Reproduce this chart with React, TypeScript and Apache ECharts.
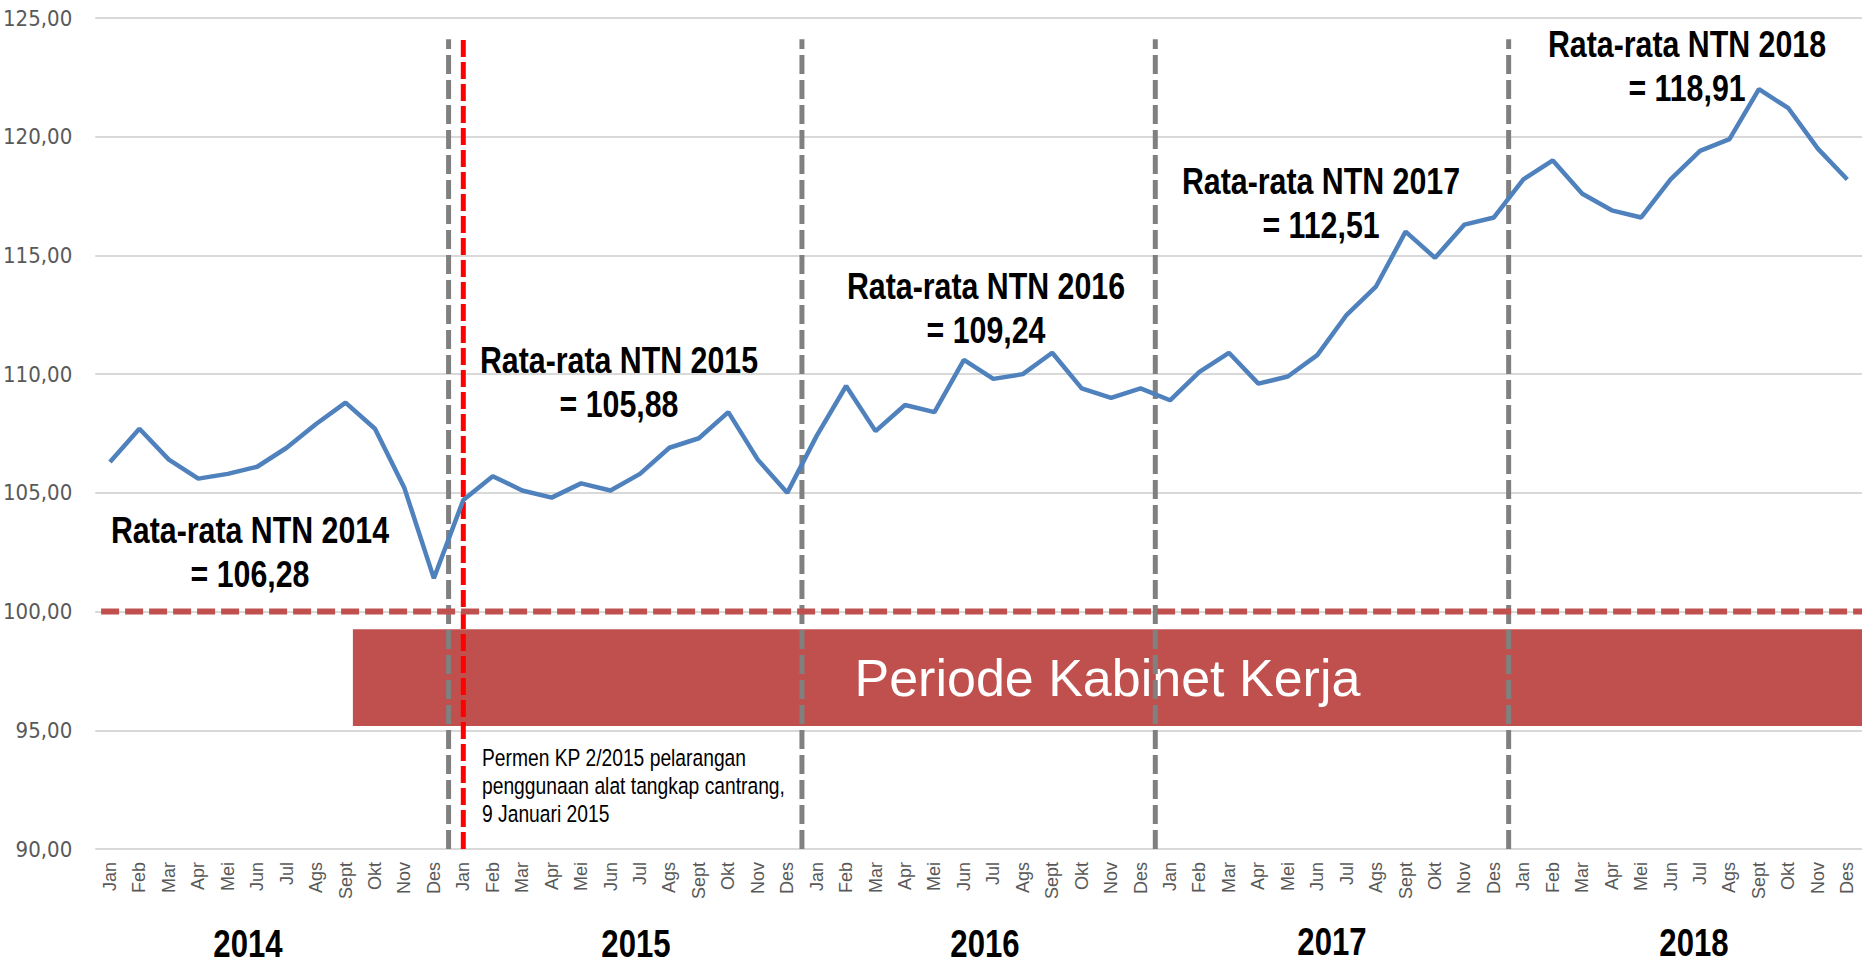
import React, { useEffect, useRef } from 'react';
import * as echarts from 'echarts';

const months = ['Jan', 'Feb', 'Mar', 'Apr', 'Mei', 'Jun', 'Jul', 'Ags', 'Sept', 'Okt', 'Nov', 'Des'];
const years = ['2014', '2015', '2016', '2017', '2018'];

const ntn2014 = [106.3, 107.7, 106.4, 105.6, 105.8, 106.1, 106.9, 107.9, 108.8, 107.7, 105.2, 101.4];
const ntn2015 = [104.7, 105.7, 105.1, 104.8, 105.4, 105.1, 105.8, 106.9, 107.3, 108.4, 106.4, 105.0];
const ntn2016 = [107.4, 109.5, 107.6, 108.7, 108.4, 110.6, 109.8, 110.0, 110.9, 109.4, 109.0, 109.4];
const ntn2017 = [108.9, 110.1, 110.9, 109.6, 109.9, 110.8, 112.5, 113.7, 116.0, 114.9, 116.3, 116.6];
const ntn2018 = [118.2, 119.0, 117.6, 116.9, 116.6, 118.2, 119.4, 119.9, 122.0, 121.2, 119.5, 118.2];

const yearAverages = ['106,28', '105,88', '109,24', '112,51', '118,91'];
const baselineValue = 100;
const regulationMonthIndex = 12; // Jan 2015
const regulationText = 'Permen KP 2/2015 pelarangan\npenggunaan alat tangkap cantrang,\n9 Januari 2015';
const bandText = 'Periode Kabinet Kerja';

const SANS = "'Liberation Sans', Arial, sans-serif";
const COND = "'DejaVu Sans Condensed', 'Liberation Sans', sans-serif";
const NARROW_SCALE = 0.82;

export default function App() {
  const ref = useRef<HTMLDivElement>(null);

  useEffect(() => {
    document.body.style.margin = '0';
    const chart = echarts.init(ref.current!, undefined, { renderer: 'svg' });

    const categories: string[] = [];
    years.forEach(() => months.forEach((m) => categories.push(m)));
    const values = [...ntn2014, ...ntn2015, ...ntn2016, ...ntn2017, ...ntn2018];

    const separatorSeries = years.slice(1).map((_, i) => ({
      type: 'line',
      xAxisIndex: 1,
      symbol: 'none',
      silent: true,
      z: 2,
      lineStyle: { color: '#808080', width: 5, type: [19, 6] },
      data: [[(i + 1) * 12 - 0.5, 90], [(i + 1) * 12 - 0.5, 124.1]],
    }));

    const annoPos = [
      [250, 552],
      [619, 382],
      [986, 308],
      [1321, 203],
      [1687, 66],
    ];
    const yearPos = [
      [248, 944],
      [636, 944],
      [985, 944],
      [1332, 942],
      [1694, 943],
    ];

    const graphic: any[] = [];
    years.forEach((y, i) => {
      graphic.push({
        type: 'text',
        x: annoPos[i][0],
        y: annoPos[i][1],
        scaleX: NARROW_SCALE,
        z: 20,
        style: {
          text: `Rata-rata NTN ${y}\n= ${yearAverages[i]}`,
          font: `bold 37px ${SANS}`,
          fill: '#000',
          align: 'center',
          verticalAlign: 'middle',
          textAlign: 'center',
          textVerticalAlign: 'middle',
          lineHeight: 44,
        },
      });
      graphic.push({
        type: 'text',
        x: yearPos[i][0],
        y: yearPos[i][1],
        scaleX: NARROW_SCALE,
        z: 20,
        style: {
          text: y,
          font: `bold 38px ${SANS}`,
          fill: '#000',
          align: 'center',
          verticalAlign: 'middle',
          textAlign: 'center',
          textVerticalAlign: 'middle',
        },
      });
    });
    graphic.push({
      type: 'text',
      x: 482,
      y: 786,
      scaleX: NARROW_SCALE,
      z: 20,
      style: {
        text: regulationText,
        font: `23.5px ${SANS}`,
        fill: '#000',
        align: 'left',
        verticalAlign: 'middle',
        textAlign: 'left',
        textVerticalAlign: 'middle',
        lineHeight: 28,
      },
    });

    chart.setOption({
      animation: false,
      textStyle: { fontFamily: SANS },
      grid: { left: 93, right: 6, top: 18, bottom: 118, containLabel: false },
      xAxis: [
        {
          type: 'category',
          data: categories,
          boundaryGap: true,
          axisLine: { show: false },
          axisTick: { show: false },
          axisLabel: {
            rotate: 90,
            interval: 0,
            color: '#595959',
            fontSize: 18,
            fontFamily: SANS,
            margin: 13,
          },
        },
        { type: 'value', min: -0.5, max: 59.5, show: false },
      ],
      yAxis: {
        type: 'value',
        min: 90,
        max: 125,
        interval: 5,
        axisLine: { show: false },
        axisTick: { show: false },
        splitLine: { lineStyle: { color: '#D9D9D9', width: 2 } },
        axisLabel: {
          color: '#595959',
          fontSize: 22,
          fontFamily: COND,
          margin: 23,
          formatter: (v: number) => v.toFixed(2).replace('.', ','),
        },
      },
      graphic,
      series: [
        ...separatorSeries,
        {
          type: 'line',
          xAxisIndex: 1,
          symbol: 'none',
          silent: true,
          z: 3,
          lineStyle: { color: '#FF0000', width: 5, type: [17, 5] },
          data: [[regulationMonthIndex, 90], [regulationMonthIndex, 124.1]],
        },
        {
          type: 'line',
          xAxisIndex: 1,
          symbol: 'none',
          silent: true,
          z: 3,
          lineStyle: { color: '#C0504D', width: 6, type: [18, 6] },
          data: [[-0.3, baselineValue], [59.5, baselineValue]],
        },
        {
          type: 'line',
          name: 'NTN',
          data: values,
          symbol: 'none',
          z: 4,
          lineStyle: { color: '#4F81BD', width: 4.5 },
        },
        {
          type: 'line',
          xAxisIndex: 1,
          data: [],
          silent: true,
          z: 10,
          markArea: {
            silent: true,
            itemStyle: { color: '#C0504D', opacity: 1 },
            label: {
              show: true,
              position: 'inside',
              color: '#FFFFFF',
              fontSize: 52,
              fontFamily: SANS,
              formatter: bandText,
            },
            data: [[{ coord: [8.25, 99.26] }, { coord: [59.5, 95.18] }]],
          },
        },
      ],
    });

    return () => chart.dispose();
  }, []);

  return (
    <div
      ref={ref}
      style={{ position: 'absolute', left: 0, top: 0, width: 1868, height: 967, background: '#fff' }}
    />
  );
}
